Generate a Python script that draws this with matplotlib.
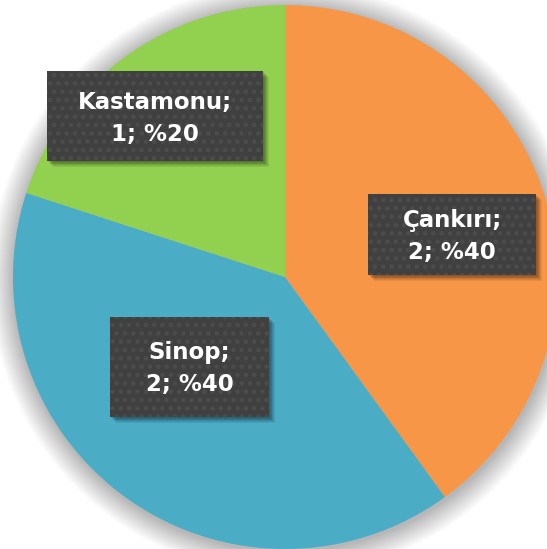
import numpy as np
import matplotlib; matplotlib.use("Agg")
import matplotlib.pyplot as plt
from matplotlib.patches import Rectangle, Circle

# data
cities = ["Çankırı", "Sinop", "Kastamonu"]
counts = [2, 2, 1]
shares = [40, 40, 20]
colors = ["#F79646", "#4BACC6", "#92D050"]

W, H = 547, 549
plt.rcParams["hatch.linewidth"] = 2.0
fig = plt.figure(figsize=(W / 100, H / 100), dpi=100)
ax = fig.add_axes([0, 0, 1, 1])

cx, cy, r = 285, H - 277, 272

# soft outer shadow round the pie
for k in range(24):
    ax.add_patch(Circle((cx + 1, cy - 2), r + 24 - k, fc="#000000", ec="none",
                        alpha=0.012, zorder=0))

ax.pie(counts, colors=colors, startangle=90, counterclock=False,
       center=(cx, cy), radius=r, wedgeprops=dict(lw=0))

# label boxes (left, top, right, bottom in image pixels)
boxes = [(368, 194, 536, 275), (110, 317, 269, 417), (47, 71, 263, 161)]
for (l, t, rr, b), name, n, p in zip(boxes, cities, counts, shares):
    w, h = rr - l, b - t
    y0 = H - b
    for k in range(7):
        ax.add_patch(Rectangle((l + 1 + k * 0.8, y0 - 1 - k * 0.8), w, h, fc="black",
                               ec="none", alpha=0.07, zorder=3))
    ax.add_patch(Rectangle((l, y0), w, h, fc="#404040", ec="#4c4c4c", lw=0,
                           hatch="..", zorder=4))
    ax.text(l + w / 2, y0 + h / 2 - 2, f"{name};\n{n}; %{p}", ha="center", va="center",
            color="white", fontsize=16.5, fontweight="bold", linespacing=1.5, zorder=5)

ax.set_xlim(0, W)
ax.set_ylim(0, H)
ax.set_aspect("auto")
ax.axis("off")
fig.savefig("out.png", dpi=100)
